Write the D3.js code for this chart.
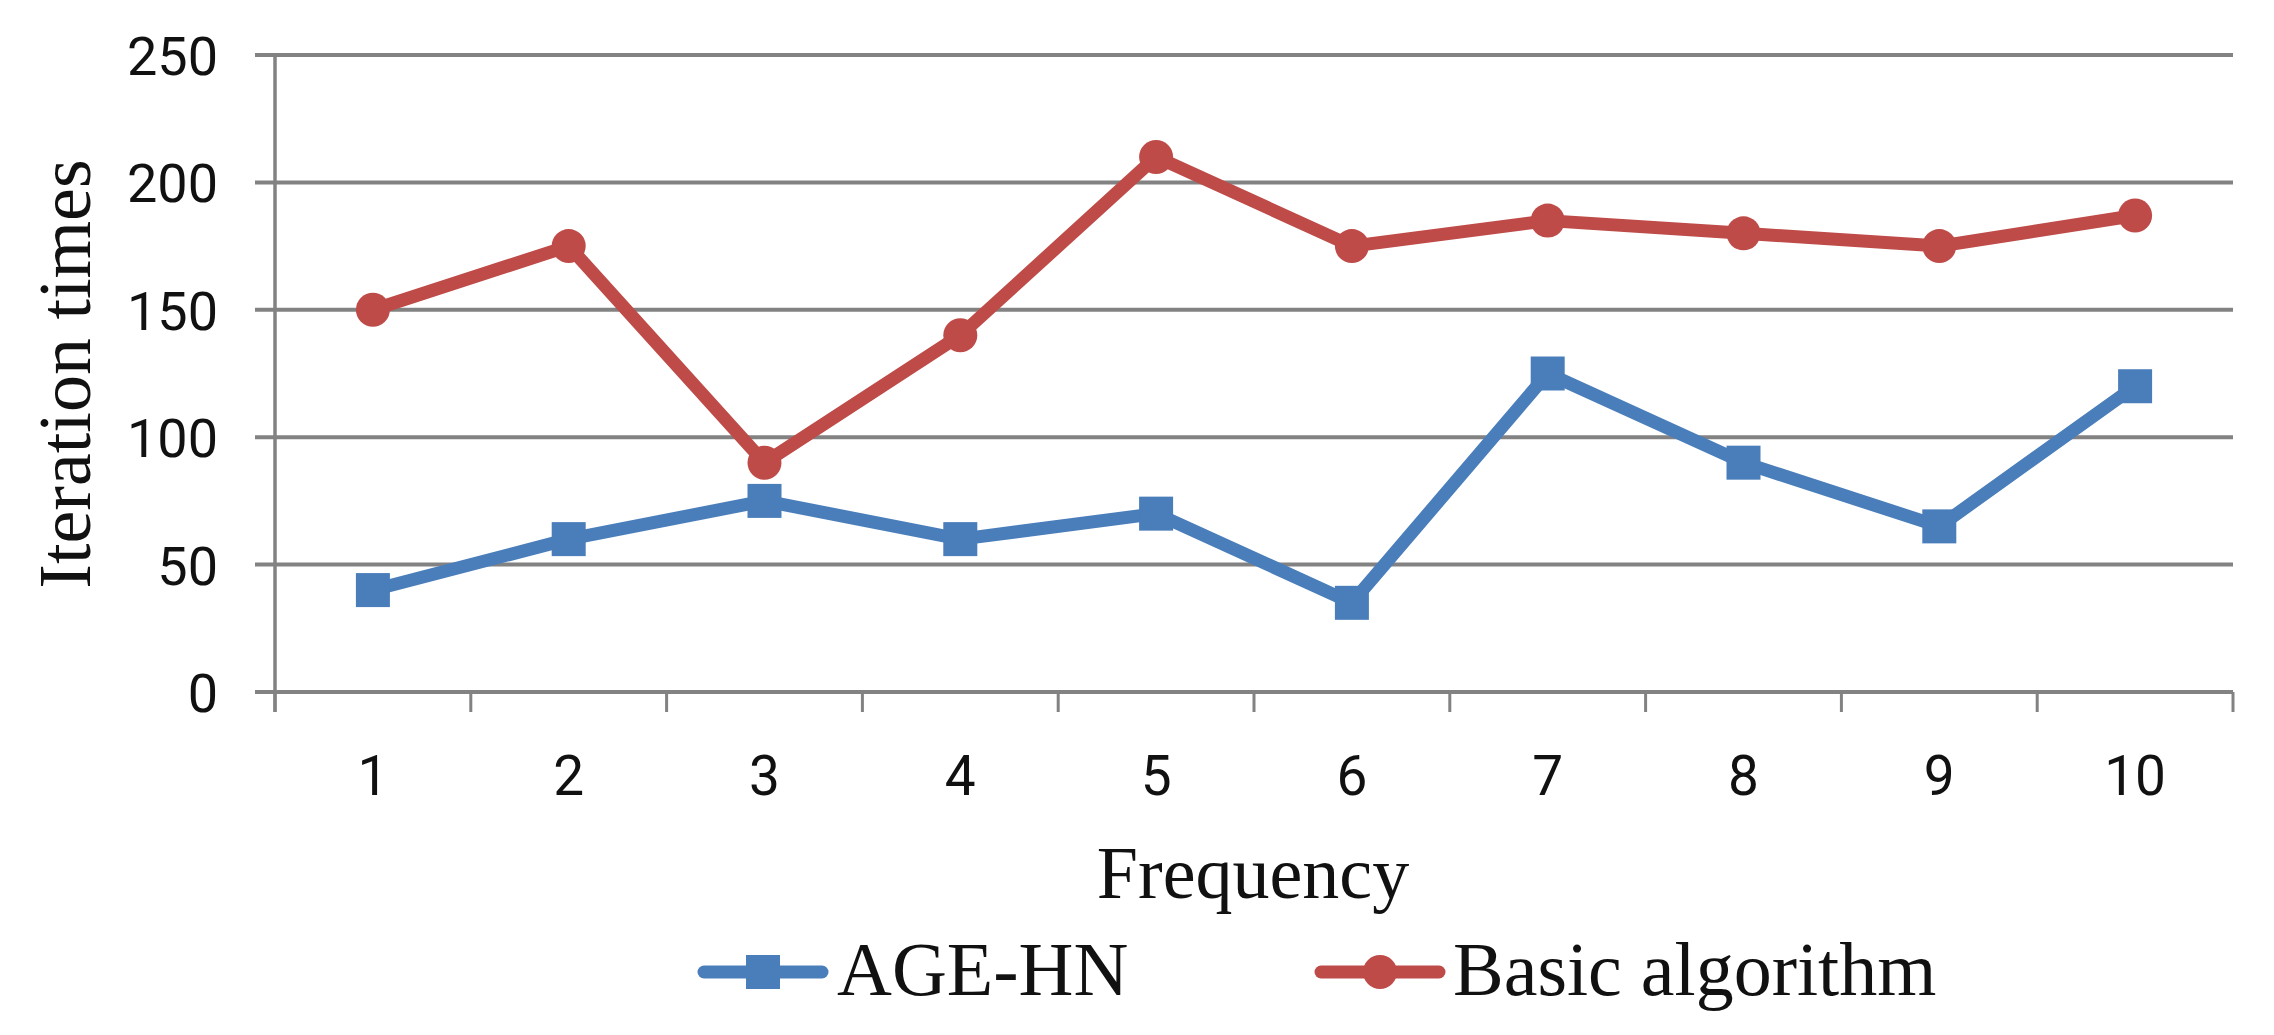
<!DOCTYPE html>
<html>
<head>
<meta charset="utf-8">
<script src="https://cdn.jsdelivr.net/npm/d3@7"></script>
<style>
  html, body { margin: 0; padding: 0; background: #ffffff; }
  svg { display: block; }
</style>
</head>
<body>
<svg id="chart" width="2274" height="1035"></svg>
<script>
const categories = ["1", "2", "3", "4", "5", "6", "7", "8", "9", "10"];
const ageHN = [40, 60, 75, 60, 70, 35, 125, 90, 65, 120];
const basicAlgorithm = [150, 175, 90, 140, 210, 175, 185, 180, 175, 187];
const yTicks = [0, 50, 100, 150, 200, 250];
const seriesNames = ["AGE-HN", "Basic algorithm"];
const xTitle = "Frequency";
const yTitle = "Iteration times";

const W = 2274, H = 1035;
const margin = { left: 275, right: 2233, top: 55, bottom: 692 };
const blue = "#4a7ebb", red = "#be4b48", grid = "#828282";
const tickLen = 20;

const svg = d3.select("#chart");

const x = d3.scaleBand().domain(categories).range([margin.left, margin.right]).paddingInner(0).paddingOuter(0);
const xEdge = d3.scaleLinear().domain([0, categories.length]).range([margin.left, margin.right]);
const y = d3.scaleLinear().domain([0, 250]).range([margin.bottom, margin.top]);

// y axis labels (right edge ~218)
const gy = svg.append("g").attr("transform", `translate(${margin.left - tickLen},0)`);
gy.call(d3.axisLeft(y).tickValues(yTicks).tickSize(0).tickPadding(37));
gy.select(".domain").remove();
gy.selectAll(".tick text")
  .attr("font-family", "Roboto, 'Open Sans', sans-serif")
  .attr("font-size", 54).attr("fill", "#111").attr("dy", "0.36em");

// gridlines
svg.append("g").selectAll("line").data(yTicks).join("line")
  .attr("x1", margin.left - tickLen).attr("x2", margin.right)
  .attr("y1", d => y(d)).attr("y2", d => y(d))
  .attr("stroke", grid).attr("stroke-width", 4);

// vertical axis line
svg.append("line")
  .attr("x1", margin.left).attr("x2", margin.left)
  .attr("y1", margin.top).attr("y2", margin.bottom + tickLen)
  .attr("stroke", grid).attr("stroke-width", 3.5);

// x tick marks at category boundaries
svg.append("g").selectAll("line").data(d3.range(categories.length + 1)).join("line")
  .attr("x1", d => xEdge(d)).attr("x2", d => xEdge(d))
  .attr("y1", margin.bottom).attr("y2", margin.bottom + tickLen)
  .attr("stroke", grid).attr("stroke-width", 3);

// x labels
svg.append("g").selectAll("text").data(categories).join("text")
  .attr("x", d => x(d) + x.bandwidth() / 2)
  .attr("y", 795)
  .attr("text-anchor", "middle")
  .attr("font-family", "Roboto, 'Open Sans', sans-serif")
  .attr("font-size", 55).attr("fill", "#111")
  .text(d => d);

// axis titles
svg.append("text")
  .attr("x", 1253).attr("y", 898)
  .attr("text-anchor", "middle")
  .attr("font-family", "'Liberation Serif', 'Times New Roman', serif")
  .attr("font-size", 74).attr("fill", "#111")
  .text(xTitle);

svg.append("text")
  .attr("transform", `translate(90,374) rotate(-90)`)
  .attr("text-anchor", "middle")
  .attr("font-family", "'Liberation Serif', 'Times New Roman', serif")
  .attr("font-size", 74).attr("fill", "#111")
  .text(yTitle);

// series
const cx = (d, i) => x(categories[i]) + x.bandwidth() / 2;
const line = d3.line().x(cx).y(d => y(d));

function drawMarker(g, shape, px, py, color) {
  if (shape === "square") {
    g.append("rect").attr("x", px - 17).attr("y", py - 17)
      .attr("width", 34).attr("height", 34).attr("fill", color);
  } else {
    g.append("circle").attr("cx", px).attr("cy", py).attr("r", 17).attr("fill", color);
  }
}

function drawSeries(values, color, shape) {
  svg.append("path").datum(values)
    .attr("d", line).attr("fill", "none")
    .attr("stroke", color).attr("stroke-width", 13)
    .attr("stroke-linejoin", "round");
  const g = svg.append("g");
  values.forEach((d, i) => drawMarker(g, shape, cx(d, i), y(d), color));
}
drawSeries(ageHN, blue, "square");
drawSeries(basicAlgorithm, red, "circle");

// legend
const legendY = 972;
const legendItems = [
  { name: seriesNames[0], color: blue, shape: "square", x0: 698, tx: 837 },
  { name: seriesNames[1], color: red, shape: "circle", x0: 1315, tx: 1453 }
];
const lg = svg.append("g");
legendItems.forEach(it => {
  lg.append("line").attr("x1", it.x0 + 6).attr("x2", it.x0 + 124)
    .attr("y1", legendY).attr("y2", legendY)
    .attr("stroke", it.color).attr("stroke-width", 13).attr("stroke-linecap", "round");
  drawMarker(lg, it.shape, it.x0 + 65, legendY, it.color);
  lg.append("text").attr("x", it.tx).attr("y", 995)
    .attr("font-family", "'Liberation Serif', 'Times New Roman', serif")
    .attr("font-size", 76).attr("fill", "#111")
    .text(it.name);
});
</script>
</body>
</html>
